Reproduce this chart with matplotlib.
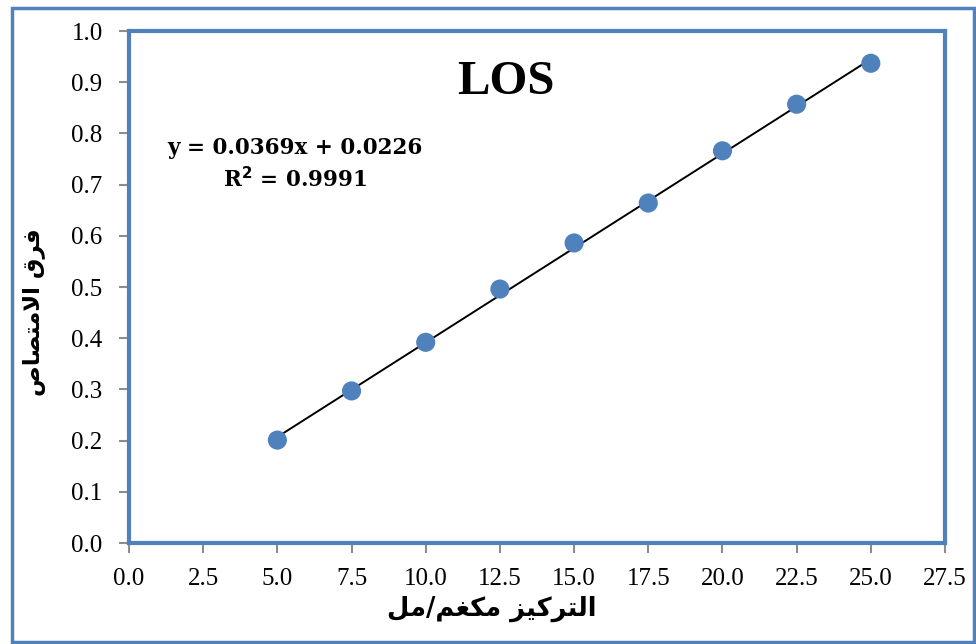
import matplotlib
matplotlib.use("Agg")
import matplotlib.pyplot as plt
from matplotlib.patches import Rectangle
import numpy as np

# Data
concentration = [5.0, 7.5, 10.0, 12.5, 15.0, 17.5, 20.0, 22.5, 25.0]
absorbance = [0.201, 0.297, 0.392, 0.496, 0.586, 0.664, 0.766, 0.857, 0.937]
slope = 0.0369
intercept = 0.0226
r_squared = 0.9991
x_ticks = [0.0, 2.5, 5.0, 7.5, 10.0, 12.5, 15.0, 17.5, 20.0, 22.5, 25.0, 27.5]
y_ticks = [0.0, 0.1, 0.2, 0.3, 0.4, 0.5, 0.6, 0.7, 0.8, 0.9, 1.0]
title = "LOS"
# Arabic labels in visual (pre-shaped) order
ylabel = "\uFEB9\uFE8E\uFEBC\uFE98\uFEE3\uFEFB\uFE8D \uFED5\uFEAE\uFED3"   # فرق الامتصاص
xlabel = "\uFEDE\uFEE3/\uFEE2\uFED0\uFEDC\uFEE3 \uFEB0\uFEF4\uFEDB\uFEAE\uFE98\uFEDF\uFE8D"  # التركيز مكغم/مل

blue = "#4F81BD"
W, H = 976, 644
fig = plt.figure(figsize=(W / 100, H / 100), dpi=100)
fig.patch.set_facecolor("white")

# outer border
fig.add_artist(Rectangle((11.5 / W, 2.5 / H), (974 - 11.5) / W, (636 - 2.5) / H,
                         transform=fig.transFigure, fill=False,
                         edgecolor=blue, linewidth=2.5))

ax = fig.add_axes([129 / W, 1 - 543 / H, (945 - 129) / W, (543 - 31) / H])
ax.set_xlim(0, 27.5)
ax.set_ylim(0, 1.0)
for s in ax.spines.values():
    s.set_color(blue)
    s.set_linewidth(3)

ax.set_xticks(x_ticks)
ax.set_yticks(y_ticks)
ax.set_xticklabels([f"{v:.1f}" for v in x_ticks], family="Liberation Serif", fontsize=18)
ax.set_yticklabels([f"{v:.1f}" for v in y_ticks], family="Liberation Serif", fontsize=18)
ax.tick_params(axis="both", direction="out", length=7, width=1.5, color="#8C8C8C",
               labelcolor="black")
ax.tick_params(axis="y", pad=12)
ax.tick_params(axis="x", pad=11)

xs = np.array([concentration[0], concentration[-1]])
ax.plot(xs, slope * xs + intercept, color="black", linewidth=1.4, zorder=2)
ax.scatter(concentration, absorbance, s=190, color=blue, edgecolors="none", zorder=3)

ax.text(0.462, 0.90, title, transform=ax.transAxes, ha="center", va="center",
        fontsize=35, fontweight="bold", family="Liberation Serif")
ax.text(5.6, 0.739, f"y = {slope}x + {intercept}\nR$^{{\\mathbf{{2}}}}$ = {r_squared}",
        ha="center", va="center", fontsize=15.5, fontweight="bold",
        family="DejaVu Serif", linespacing=1.35)

fig.text(35 / W, 1 - 312 / H, ylabel, rotation=90, ha="center", va="center",
         fontsize=16.5, fontweight="bold", family="DejaVu Sans")
fig.text(492 / W, 1 - 609 / H, xlabel, ha="center", va="center",
         fontsize=18.5, fontweight="bold", family="DejaVu Sans")

fig.savefig("out.png", dpi=100)
